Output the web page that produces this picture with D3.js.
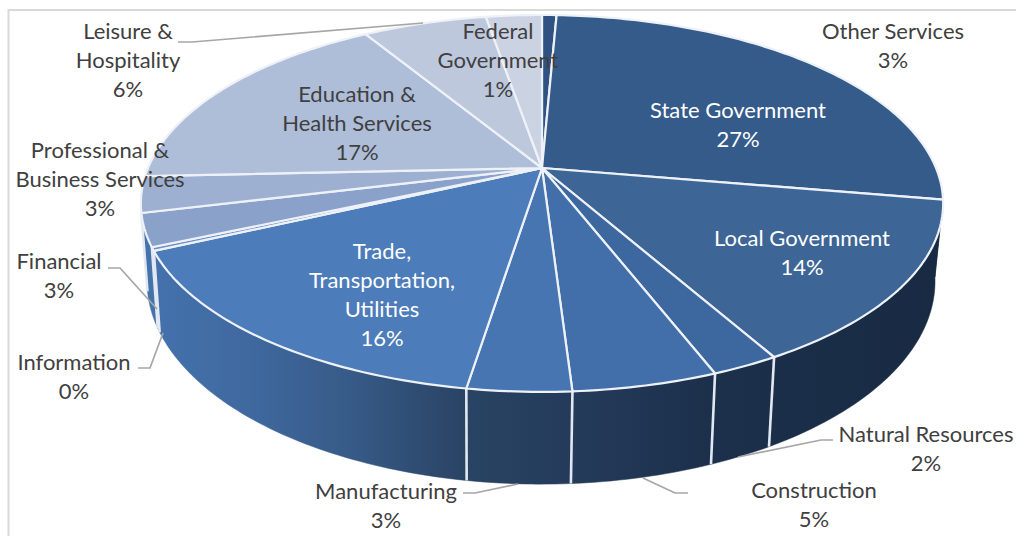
<!DOCTYPE html>
<html><head><meta charset="utf-8">
<script src="https://cdn.jsdelivr.net/npm/d3@7"></script>
<style>html,body{margin:0;padding:0;background:#fff}svg{display:block}text{font-family:Lato,"Open Sans",sans-serif;font-size:22px}</style>
</head><body><svg id="c" width="1016" height="536"></svg>
<script>
// Data, in clockwise slice order from 12 o'clock
const sliceNames = ["Federal Government","State Government","Local Government","Natural Resources","Construction","Manufacturing","Trade, Transportation, Utilities","Information","Financial","Professional & Business Services","Education & Health Services","Leisure & Hospitality","Other Services"];
const sliceValues = [0.7,27.0,14.1,2.3,4.9,3.5,15.6,0.3,2.8,3.1,17.0,6.0,2.7];
const sliceColors = ["#2f5282","#355b8b","#3d6596","#3c689f","#426fa9","#4675b1","#4c7cba","#6f90c2","#8aa2ca","#9db0d1","#aebdd8","#bdc8dd","#cbd3e3"];
// Printed labels
const labelLines = [
 ["Leisure &","Hospitality","6%"],["Federal","Government","1%"],["Other Services","3%"],
 ["State Government","27%"],["Local Government","14%"],["Education &","Health Services","17%"],
 ["Professional &","Business Services","3%"],["Financial","3%"],["Information","0%"],
 ["Trade,","Transportation,","Utilities","16%"],["Manufacturing","3%"],["Construction","5%"],["Natural Resources","2%"]];
const labelColor = [0,0,0,1,1,0,0,0,0,1,0,0,0];
// Layout
const labelAnchor = [[128,31],[498,31],[893,31],[738,110],[802,238],[357,94],[100,150],[59,261],[74,362],[382,251],[386,491],[814,490],[926,434]];
const leaders = [
 [[178,42],[192,42],[423,23]],
 [[108,268],[120,268],[157,309]],
 [[138,368],[150,368],[163,333]],
 [[463,493],[475,493],[518,484]],
 [[643,478],[675,493],[688,493]],
 [[833,440],[821,440],[738,457]]];

const svg = d3.select("#c");
const defs = svg.append("defs");
const wallGrad = defs.append("linearGradient").attr("id","wall").attr("gradientUnits","userSpaceOnUse")
  .attr("x1",150).attr("x2",945).attr("y1",0).attr("y2",0);
[[0,"#4472ad"],[0.13,"#3f689e"],[0.25,"#375b88"],[0.39,"#2a4465"],[0.53,"#243b5a"],[0.7,"#1c304c"],[1,"#182a42"]]
  .forEach(s=>wallGrad.append("stop").attr("offset",s[0]).attr("stop-color",s[1]));

const k = 0.188;
const project = (cx,cy,a,b) => th => {
  const x = Math.sin(th), y = -Math.cos(th), w = 1-k*y;
  return [cx + a*x/w, cy + b*y/w];
};
const topP = project(542,168,394,181.8);
const botP = project(541,243,387,195.8);
const pie = d3.pie().sort(null).value(d=>d);
const arcs = pie(sliceValues);
const samples = (a0,a1) => { const n=Math.max(2,Math.ceil((a1-a0)/(Math.PI/180))); return d3.range(n+1).map(i=>a0+(a1-a0)*i/n); };
const line = d3.line();

// side wall (front-facing slices)
const wallFrom = 97*Math.PI/180, wallTo = 262*Math.PI/180;
const wallArcs = arcs.filter(d=>d.endAngle>wallFrom && d.startAngle<wallTo);
svg.append("g").selectAll("path").data(wallArcs).join("path")
  .attr("d",d=>{
    const s=samples(Math.max(d.startAngle,wallFrom),Math.min(d.endAngle,wallTo));
    return line(s.map(topP).concat(s.slice().reverse().map(botP)))+"Z";
  }).attr("fill","url(#wall)").attr("stroke","url(#wall)").attr("stroke-width",0.5);
// seams on wall
const seamFrom = 110*Math.PI/180;
svg.append("g").selectAll("line").data(arcs.filter(d=>d.startAngle>seamFrom && d.startAngle<wallTo))
  .join("line")
  .attr("x1",d=>topP(d.startAngle)[0]).attr("y1",d=>topP(d.startAngle)[1])
  .attr("x2",d=>botP(d.startAngle)[0]).attr("y2",d=>botP(d.startAngle)[1])
  .attr("stroke","#e2e8f1").attr("stroke-width",2.6);

// top surface
svg.append("g").selectAll("path").data(arcs).join("path")
  .attr("d",d=>line([[542,168]].concat(samples(d.startAngle,d.endAngle).map(topP)))+"Z")
  .attr("fill",(d,i)=>sliceColors[i]).attr("stroke","#eef2f8").attr("stroke-width",2.2).attr("stroke-linejoin","round");

// frame
svg.append("path").attr("d","M1016,10H8.5V536").attr("fill","none").attr("stroke","#d9d9d9").attr("stroke-width",2);

// leaders
svg.append("g").selectAll("path").data(leaders).join("path")
  .attr("d",d=>line(d)).attr("fill","none").attr("stroke","#a6a6a6").attr("stroke-width",1.7);

// labels
const lh = 29;
const lg = svg.append("g").selectAll("text").data(labelLines).join("text")
  .attr("text-anchor","middle").attr("fill",(d,i)=>labelColor[i]?"#ffffff":"#404040");
lg.each(function(d,i){
  d3.select(this).selectAll("tspan").data(d).join("tspan")
    .attr("x",labelAnchor[i][0]).attr("y",(t,j)=>labelAnchor[i][1]+j*lh+8).text(t=>t);
});
</script></body></html>
